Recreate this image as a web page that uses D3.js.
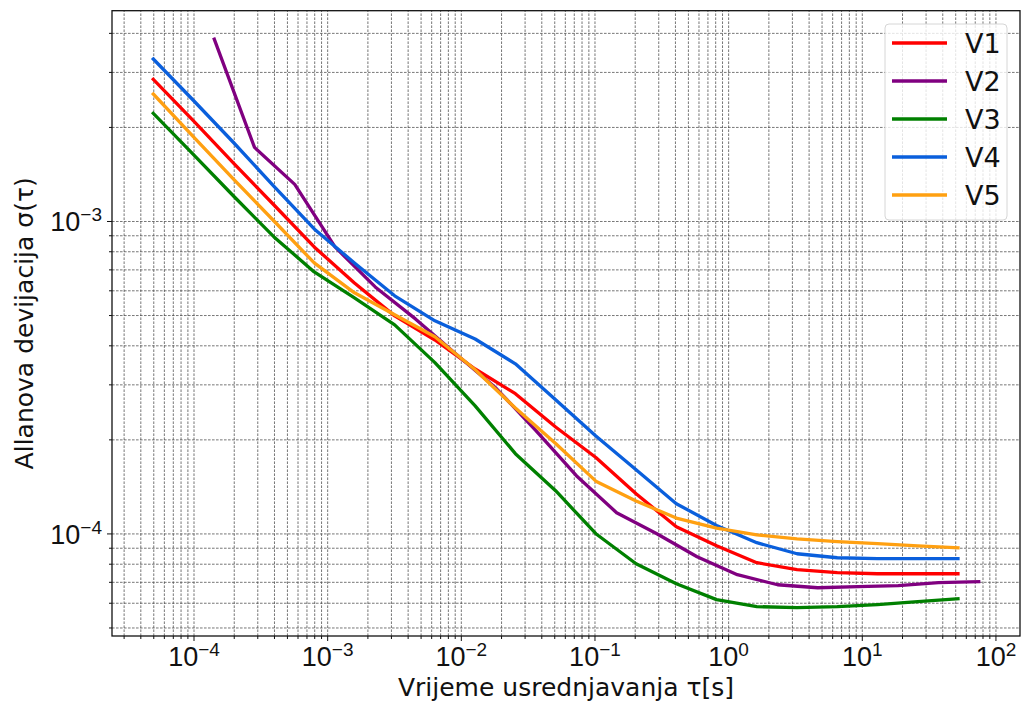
<!DOCTYPE html>
<html>
<head>
<meta charset="utf-8">
<script src="https://cdn.jsdelivr.net/npm/d3@7"></script>
<style>
  body { margin: 0; background: #fff; }
  svg { display: block; font-family: "DejaVu Sans", sans-serif; }
</style>
</head>
<body>
<div id="chart"></div>
<script>
const tauA = [5e-5, 1e-4, 2e-4, 4e-4, 8e-4, 1.6e-3, 3.2e-3, 6.4e-3, 0.0128, 0.0256, 0.0512,
    0.1024, 0.2048, 0.4096, 0.8192, 1.6384, 3.2768, 6.5536, 13.1072, 26.2144, 52.4288];
const tauB = [1.43e-4, 2.86e-4, 5.72e-4, 1.144e-3, 2.288e-3, 4.576e-3, 9.152e-3, 0.0183, 0.0366,
    0.0732, 0.1464, 0.2929, 0.5857, 1.1715, 2.343, 4.686, 9.372, 18.74, 37.49, 74.97];

const v1 = [2.84e-3, 2.09e-3, 1.53e-3, 1.125e-3, 8.26e-4, 6.33e-4, 4.97e-4, 4.16e-4, 3.36e-4, 2.80e-4,
    2.19e-4, 1.75e-4, 1.34e-4, 1.05e-4, 9.13e-5, 8.06e-5, 7.66e-5, 7.49e-5, 7.43e-5, 7.43e-5, 7.43e-5];
const v2 = [3.82e-3, 1.72e-3, 1.31e-3, 8.26e-4, 6.15e-4, 4.86e-4, 3.76e-4, 2.92e-4, 2.13e-4, 1.53e-4,
    1.165e-4, 9.98e-5, 8.42e-5, 7.38e-5, 6.85e-5, 6.70e-5, 6.76e-5, 6.81e-5, 6.96e-5, 7.01e-5];
const v3 = [2.21e-3, 1.63e-3, 1.20e-3, 8.89e-4, 6.87e-4, 5.67e-4, 4.65e-4, 3.52e-4, 2.56e-4, 1.80e-4,
    1.37e-4, 9.98e-5, 8.00e-5, 6.90e-5, 6.14e-5, 5.83e-5, 5.79e-5, 5.83e-5, 5.92e-5, 6.05e-5, 6.18e-5];
const v4 = [3.30e-3, 2.43e-3, 1.78e-3, 1.29e-3, 9.43e-4, 7.34e-4, 5.76e-4, 4.79e-4, 4.19e-4, 3.49e-4,
    2.68e-4, 2.05e-4, 1.60e-4, 1.245e-4, 1.06e-4, 9.34e-5, 8.61e-5, 8.36e-5, 8.30e-5, 8.30e-5, 8.30e-5];
const v5 = [2.55e-3, 1.86e-3, 1.36e-3, 1.00e-3, 7.34e-4, 5.89e-4, 5.01e-4, 4.26e-4, 3.34e-4, 2.52e-4,
    1.94e-4, 1.47e-4, 1.27e-4, 1.12e-4, 1.04e-4, 9.90e-5, 9.61e-5, 9.41e-5, 9.27e-5, 9.13e-5, 9.00e-5];

const seriesNames = ["V1", "V2", "V3", "V4", "V5"];
const seriesColors = ["#ff0000", "#800080", "#008000", "#0a5fdc", "#ffa011"];
const xMajor = [1e-4, 1e-3, 1e-2, 1e-1, 1e0, 1e1, 1e2];
const yMajor = [1e-4, 1e-3];
const xLabel = "Vrijeme usrednjavanja \u03c4[s]";
const yLabel = "Allanova devijacija \u03c3(\u03c4)";

const series = [
    { name: seriesNames[0], color: seriesColors[0], tau: tauA, val: v1 },
    { name: seriesNames[1], color: seriesColors[1], tau: tauB, val: v2 },
    { name: seriesNames[2], color: seriesColors[2], tau: tauA, val: v3 },
    { name: seriesNames[3], color: seriesColors[3], tau: tauA, val: v4 },
    { name: seriesNames[4], color: seriesColors[4], tau: tauA, val: v5 }
];

const W = 1022, H = 704;
const m = { left: 112, top: 10.7, right: 2, bottom: 68 };
const pw = W - m.left - m.right;
const ph = H - m.top - m.bottom;

const svg = d3.select("#chart").append("svg")
    .attr("width", W)
    .attr("height", H);

// log domains padded by 5% like matplotlib autoscale
function padLog(ext) {
    const a = Math.log10(ext[0]), b = Math.log10(ext[1]);
    const p = (b - a) * 0.05;
    return [Math.pow(10, a - p), Math.pow(10, b + p)];
}
const allTau = tauA.concat(tauB);
const allVal = v1.concat(v2, v3, v4, v5);

const x = d3.scaleLog().domain(padLog(d3.extent(allTau))).range([0, pw]);
const y = d3.scaleLog().domain(padLog(d3.extent(allVal))).range([ph, 0]);

function minors(dom) {
    const out = [];
    for (let e = Math.floor(Math.log10(dom[0])); e <= Math.ceil(Math.log10(dom[1])); e++) {
        for (let k = 2; k <= 9; k++) {
            const v = k * Math.pow(10, e);
            if (v >= dom[0] && v <= dom[1]) out.push(v);
        }
    }
    return out;
}
const xMinor = minors(x.domain());
const yMinor = minors(y.domain());

const g = svg.append("g").attr("transform", "translate(" + m.left + "," + m.top + ")");

// grid
const gridStyle = function(sel) {
    sel.select(".domain").remove();
    sel.selectAll("line")
        .attr("stroke", "#4a4a4a")
        .attr("stroke-width", 0.75)
        .attr("stroke-dasharray", "2.6,1.4");
};
g.append("g").attr("transform", "translate(0," + ph + ")")
    .call(d3.axisBottom(x).tickValues(xMajor.concat(xMinor)).tickSize(-ph).tickFormat(""))
    .call(gridStyle);
g.append("g")
    .call(d3.axisLeft(y).tickValues(yMajor.concat(yMinor)).tickSize(-pw).tickFormat(""))
    .call(gridStyle);

g.append("clipPath").attr("id", "clip")
    .append("rect").attr("width", pw).attr("height", ph);

const line = d3.line()
    .x(function(d) { return x(d[0]); })
    .y(function(d) { return y(d[1]); });

g.append("g").attr("clip-path", "url(#clip)")
    .selectAll("path")
    .data(series)
    .enter()
    .append("path")
    .attr("fill", "none")
    .attr("stroke", function(d) { return d.color; })
    .attr("stroke-width", 3.3)
    .attr("stroke-linejoin", "round")
    .attr("stroke-linecap", "square")
    .attr("d", function(d) { return line(d.tau.map(function(t, i) { return [t, d.val[i]]; })); });

// frame
g.append("rect")
    .attr("width", pw).attr("height", ph)
    .attr("fill", "none").attr("stroke", "#111").attr("stroke-width", 1.3);

function powLabel(text, v) {
    const e = Math.round(Math.log10(v));
    text.text("10");
    text.append("tspan")
        .attr("font-size", 19)
        .attr("dy", -10)
        .text(e < 0 ? "\u2212" + (-e) : "" + e);
}

const xAxis = g.append("g").attr("transform", "translate(0," + ph + ")")
    .call(d3.axisBottom(x).tickValues(xMajor).tickSize(5).tickFormat(""));
xAxis.selectAll(".tick text").remove();
xAxis.selectAll(".tick").append("text")
    .attr("y", 30)
    .attr("fill", "#111")
    .attr("font-size", 27)
    .attr("text-anchor", "middle")
    .each(function(d) { powLabel(d3.select(this), d); });
g.append("g").attr("transform", "translate(0," + ph + ")")
    .call(d3.axisBottom(x).tickValues(xMinor).tickSize(3).tickFormat(""));

const yAxis = g.append("g")
    .call(d3.axisLeft(y).tickValues(yMajor).tickSize(5).tickFormat(""));
yAxis.selectAll(".tick").append("text")
    .attr("x", -10)
    .attr("y", 10)
    .attr("fill", "#111")
    .attr("font-size", 27)
    .attr("text-anchor", "end")
    .each(function(d) { powLabel(d3.select(this), d); });
g.append("g")
    .call(d3.axisLeft(y).tickValues(yMinor).tickSize(3).tickFormat(""));

g.selectAll(".domain").remove();
g.selectAll(".tick line").attr("stroke", function() {
    return d3.select(this).attr("stroke-dasharray") ? "#4a4a4a" : "#111";
});

svg.append("text")
    .attr("x", m.left + pw / 2)
    .attr("y", 696)
    .attr("text-anchor", "middle")
    .attr("font-size", 25)
    .attr("fill", "#111")
    .text(xLabel);

svg.append("text")
    .attr("transform", "translate(33," + (m.top + ph / 2) + ") rotate(-90)")
    .attr("text-anchor", "middle")
    .attr("font-size", 25)
    .attr("fill", "#111")
    .text(yLabel);

// legend
const lg = svg.append("g").attr("transform", "translate(885,24)");
lg.append("rect")
    .attr("width", 122).attr("height", 196).attr("rx", 4)
    .attr("fill", "#fff").attr("fill-opacity", 0.8)
    .attr("stroke", "#d6d6d6").attr("stroke-width", 1);
const items = lg.selectAll("g.item")
    .data(series)
    .enter()
    .append("g")
    .attr("class", "item")
    .attr("transform", function(d, i) { return "translate(0," + (19 + i * 38) + ")"; });
items.append("line")
    .attr("x1", 7).attr("x2", 62)
    .attr("stroke", function(d) { return d.color; })
    .attr("stroke-width", 3.3);
items.append("text")
    .attr("x", 80).attr("y", 10)
    .attr("font-size", 27)
    .attr("fill", "#111")
    .text(function(d) { return d.name; });
</script>
</body>
</html>
